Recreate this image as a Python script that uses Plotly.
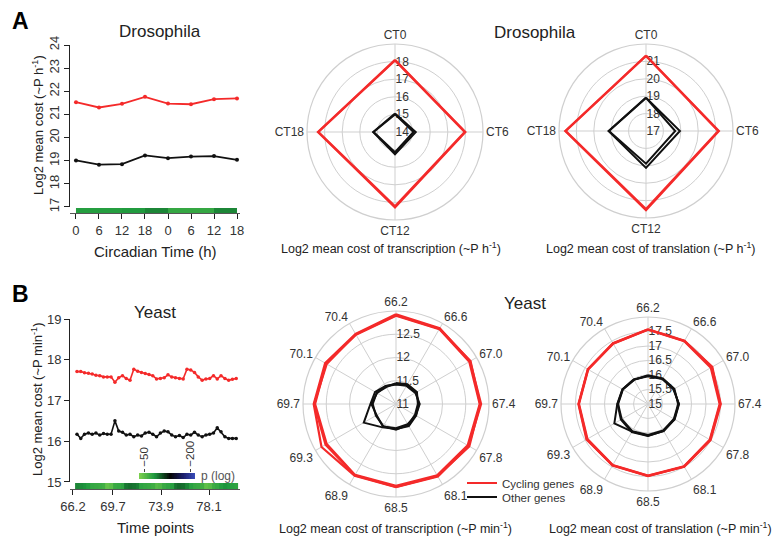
import numpy as np
import plotly.graph_objects as go

W, H = 778, 542
def px(x): return x / W
def py(y): return 1 - y / H

FONT = "Liberation Sans, Arial, sans-serif"
RED = "#f42a2a"
BLACK = "#111111"
GRID = "#cfcfcf"
TXT = "#333333"

# ---------------- Data ----------------
# Panel A: Drosophila, total cost over circadian time (two days)
dro_tick_labels = ["0", "6", "12", "18", "0", "6", "12", "18"]
dro_cycling = [21.53, 21.30, 21.46, 21.76, 21.47, 21.44, 21.66, 21.69]
dro_other = [19.01, 18.83, 18.85, 19.23, 19.11, 19.18, 19.20, 19.04]
dro_strip_p = [-80, -80, -82, -90, -72, -72, -90]  # log p between time points

ct_labels = ["CT0", "CT6", "CT12", "CT18"]
dro_tx_cyc = [[18.10, 18.00, 18.29, 18.38], [18.06, 17.96, 18.22, 18.35]]
dro_tx_oth = [[15.05, 15.18, 15.27, 15.24], [15.00, 15.05, 15.15, 15.22]]
dro_tl_cyc = [[21.34, 21.19, 21.55, 21.64], [21.31, 21.15, 21.48, 21.61]]
dro_tl_oth = [[18.92, 18.95, 19.12, 19.15], [18.90, 18.68, 18.88, 19.13]]

# Panel B: Yeast, total cost over time points
yeast_time = [66.55, 66.88, 67.21, 67.55, 67.88, 68.21, 68.54, 68.87, 69.20, 69.53,
              69.87, 70.20, 70.53, 70.86, 71.19, 71.52, 71.86, 72.19, 72.52, 72.85,
              73.18, 73.51, 73.85, 74.18, 74.51, 74.84, 75.17, 75.51, 75.84, 76.17,
              76.50, 76.83, 77.16, 77.50, 77.83, 78.16, 78.49, 78.82, 79.15, 79.49,
              79.82, 80.15, 80.48]
yeast_cycling = [17.71, 17.71, 17.68, 17.67, 17.65, 17.62, 17.61, 17.58, 17.58, 17.58,
                 17.45, 17.56, 17.61, 17.54, 17.50, 17.77, 17.72, 17.69, 17.66, 17.64,
                 17.61, 17.53, 17.54, 17.56, 17.63, 17.58, 17.56, 17.54, 17.53, 17.77,
                 17.75, 17.69, 17.58, 17.50, 17.53, 17.54, 17.61, 17.53, 17.61, 17.54,
                 17.50, 17.52, 17.54]
yeast_other = [16.17, 16.07, 16.17, 16.20, 16.17, 16.20, 16.15, 16.19, 16.17, 16.17,
               16.50, 16.25, 16.22, 16.15, 16.17, 16.11, 16.15, 16.13, 16.20, 16.22,
               16.17, 16.11, 16.20, 16.25, 16.23, 16.15, 16.11, 16.14, 16.09, 16.17,
               16.15, 16.22, 16.15, 16.11, 16.15, 16.17, 16.20, 16.33, 16.23, 16.11,
               16.07, 16.07, 16.07]
yeast_strip_p = [-90, -88, -85, -80, -72, -70, -68, -65, -48, -52,
                 -70, -72, -75, -95, -98, -96, -92, -75, -72, -70,
                 -66, -55, -58, -70, -74, -78, -96, -100, -98, -90,
                 -78, -72, -70, -66, -50, -55, -68, -72, -80, -85,
                 -82, -78, -75]
yeast_ticks = [66.2, 69.7, 73.9, 78.1]
pscale_ticks = [-50, -200]

yeast_spokes = ["66.2", "66.6", "67.0", "67.4", "67.8", "68.1",
                "68.5", "68.9", "69.3", "69.7", "70.1", "70.4"]
yst_tx_cyc = [
    [12.93, 12.88, 12.84, 12.83, 12.80, 12.80, 12.79, 12.78, 12.85, 12.77, 12.76, 12.74],
    [12.90, 12.86, 12.82, 12.80, 12.78, 12.77, 12.76, 12.76, 12.72, 12.74, 12.74, 12.72],
    [12.91, 12.87, 12.85, 12.81, 12.82, 12.79, 12.78, 12.77, 12.75, 12.76, 12.72, 12.73],
]
yst_tx_oth = [
    [11.43, 11.47, 11.50, 11.49, 11.50, 11.55, 11.54, 11.58, 11.80, 11.55, 11.52, 11.45],
    [11.45, 11.49, 11.52, 11.47, 11.47, 11.52, 11.55, 11.55, 11.50, 11.50, 11.48, 11.42],
    [11.42, 11.45, 11.48, 11.51, 11.49, 11.50, 11.52, 11.56, 11.48, 11.53, 11.47, 11.44],
]
yst_tl_cyc = [
    [17.58, 17.52, 17.54, 17.51, 17.49, 17.50, 17.48, 17.44, 17.45, 17.40, 17.39, 17.42],
    [17.56, 17.50, 17.50, 17.47, 17.46, 17.48, 17.47, 17.43, 17.41, 17.38, 17.38, 17.40],
    [17.57, 17.51, 17.56, 17.49, 17.47, 17.49, 17.49, 17.45, 17.43, 17.39, 17.40, 17.41],
]
yst_tl_oth = [
    [15.97, 16.00, 16.03, 16.06, 16.05, 16.08, 16.09, 16.10, 16.34, 16.06, 16.02, 15.98],
    [15.99, 16.02, 16.05, 16.04, 16.03, 16.05, 16.07, 16.08, 16.05, 16.03, 16.00, 15.96],
    [15.96, 15.99, 16.01, 16.07, 16.06, 16.07, 16.10, 16.12, 16.08, 16.05, 16.01, 15.97],
]

# ---------------- Figure ----------------
PCS = [[0.0, "#3d52c4"], [0.22, "#1c1f6e"], [0.45, "#050505"],
       [0.72, "#1f9a3f"], [1.0, "#86d650"]]
ZMIN, ZMAX = -220, -30

fig = go.Figure()

# A line chart
dro_idx = list(range(len(dro_tick_labels)))
fig.add_trace(go.Scatter(x=dro_idx, y=dro_cycling, mode="lines+markers",
                         line=dict(color=RED, width=1.8), marker=dict(size=4, color=RED),
                         xaxis="x", yaxis="y", showlegend=False, hoverinfo="skip"))
fig.add_trace(go.Scatter(x=dro_idx, y=dro_other, mode="lines+markers",
                         line=dict(color=BLACK, width=1.8), marker=dict(size=4, color=BLACK),
                         xaxis="x", yaxis="y", showlegend=False, hoverinfo="skip"))
fig.add_trace(go.Heatmap(x=dro_idx, y=[0, 1], z=[dro_strip_p], colorscale=PCS,
                         zmin=ZMIN, zmax=ZMAX, showscale=False, hoverinfo="skip",
                         xaxis="x", yaxis="y2"))

# B line chart
fig.add_trace(go.Scatter(x=yeast_time, y=yeast_cycling, mode="lines+markers",
                         line=dict(color=RED, width=1.6), marker=dict(size=3.5, color=RED),
                         xaxis="x2", yaxis="y3", showlegend=False, hoverinfo="skip"))
fig.add_trace(go.Scatter(x=yeast_time, y=yeast_other, mode="lines+markers",
                         line=dict(color=BLACK, width=1.6), marker=dict(size=3.5, color=BLACK),
                         xaxis="x2", yaxis="y3", showlegend=False, hoverinfo="skip"))
fig.add_trace(go.Heatmap(x=yeast_time, y=[0, 1], z=[yeast_strip_p], colorscale=PCS,
                         zmin=ZMIN, zmax=ZMAX, showscale=False, hoverinfo="skip",
                         xaxis="x2", yaxis="y4"))

# p-value colour key
cbar_vals = np.linspace(-34, -216, 80)
fig.add_trace(go.Heatmap(x=cbar_vals, y=[0, 1], z=[cbar_vals], colorscale=PCS,
                         zmin=ZMIN, zmax=ZMAX, showscale=False, hoverinfo="skip",
                         xaxis="x3", yaxis="y5"))

def closed(v):
    return list(v) + [v[0]]

def add_polar(sub, labels, cyc, oth, legend_on=False):
    for i, r in enumerate(cyc):
        fig.add_trace(go.Scatterpolar(r=closed(r), theta=closed(labels), mode="lines",
                                      line=dict(color=RED, width=2.2), subplot=sub,
                                      name="Cycling genes", hoverinfo="skip",
                                      showlegend=legend_on and i == 0, legend="legend"))
    for i, r in enumerate(oth):
        fig.add_trace(go.Scatterpolar(r=closed(r), theta=closed(labels), mode="lines",
                                      line=dict(color=BLACK, width=2), subplot=sub,
                                      name="Other genes", hoverinfo="skip",
                                      showlegend=legend_on and i == 0, legend="legend2"))

add_polar("polar", ct_labels, dro_tx_cyc, dro_tx_oth)
add_polar("polar2", ct_labels, dro_tl_cyc, dro_tl_oth)
add_polar("polar3", yeast_spokes, yst_tx_cyc, yst_tx_oth, legend_on=True)
add_polar("polar4", yeast_spokes, yst_tl_cyc, yst_tl_oth)

def polar_layout(cx, cy, r, labels, rrange, rticks):
    return dict(
        domain=dict(x=[px(cx - r), px(cx + r)], y=[py(cy + r), py(cy - r)]),
        bgcolor="white",
        angularaxis=dict(type="category", categoryarray=labels, direction="clockwise",
                         rotation=90, showline=True, linecolor=GRID, linewidth=1.2,
                         gridcolor=GRID, gridwidth=1, ticks="",
                         tickfont=dict(family=FONT, size=12, color=TXT)),
        radialaxis=dict(range=rrange, tickvals=rticks, angle=90, tickangle=90,
                        showline=False, ticks="", gridcolor=GRID, gridwidth=1.2,
                        layer="below traces",
                        tickfont=dict(family=FONT, size=12, color=TXT)),
    )

axis_common = dict(showgrid=False, zeroline=False, showline=True,
                   linewidth=1, ticks="outside", ticklen=5, tickcolor="#222",
                   tickfont=dict(family=FONT, size=13, color=TXT))

fig.update_layout(
    width=W, height=H, margin=dict(l=0, r=0, t=0, b=0, autoexpand=False),
    paper_bgcolor="white", plot_bgcolor="white",
    font=dict(family=FONT, color=TXT),
    xaxis=dict(domain=[px(70), px(240)], range=[-0.26, 7.13], anchor="y2",
               tickvals=dro_idx, ticktext=dro_tick_labels, linecolor="#555",
               **axis_common),
    yaxis=dict(domain=[py(207), py(45)], range=[16.999, 24.001], anchor="x",
               tickvals=list(range(17, 25)), tickangle=-90, linecolor="#222",
               **axis_common),
    yaxis2=dict(domain=[py(213), py(208)], range=[0, 1], anchor="x", visible=False),
    xaxis2=dict(domain=[px(70), px(240)], range=[65.94, 80.81], anchor="y4",
                tickvals=yeast_ticks, ticktext=[f"{t:.1f}" for t in yeast_ticks],
                linecolor="#555", **axis_common),
    yaxis3=dict(domain=[py(482), py(319)], range=[14.999, 19.001], anchor="x2",
                tickvals=list(range(15, 20)), linecolor="#222", **axis_common),
    yaxis4=dict(domain=[py(489), py(483)], range=[0, 1], anchor="x2", visible=False),
    xaxis3=dict(domain=[px(139), px(195)], range=[-33.7, -216.3], anchor="y5",
                side="top", tickvals=pscale_ticks,
                ticktext=["\u2212" + str(-t) for t in pscale_ticks], tickangle=-90,
                showline=False, showgrid=False, zeroline=False, ticks="outside",
                ticklen=3, tickcolor="#444",
                tickfont=dict(family=FONT, size=11.5, color=TXT)),
    yaxis5=dict(domain=[py(479), py(473)], range=[0, 1], anchor="x3", visible=False),
    polar=polar_layout(395, 132, 88, ct_labels, [14, 19], [14, 15, 16, 17, 18]),
    polar2=polar_layout(646, 131, 87, ct_labels, [17, 22], [17, 18, 19, 20, 21]),
    polar3=polar_layout(396, 404, 93, yeast_spokes, [11, 13], [11, 11.5, 12, 12.5]),
    polar4=polar_layout(648, 404, 87, yeast_spokes, [15, 18],
                        [15, 15.5, 16, 16.5, 17, 17.5]),
    legend=dict(x=px(462), y=py(483), xanchor="left", yanchor="middle",
                bgcolor="rgba(0,0,0,0)", font=dict(family=FONT, size=11.5, color=TXT),
                itemwidth=30),
    legend2=dict(x=px(462), y=py(497), xanchor="left", yanchor="middle",
                 bgcolor="rgba(0,0,0,0)", font=dict(family=FONT, size=11.5, color=TXT),
                 itemwidth=30),
)

def ann(x, y, text, size, angle=0, xanchor="center", color="#222"):
    fig.add_annotation(x=px(x), y=py(y), xref="paper", yref="paper", text=text,
                       showarrow=False, textangle=angle, xanchor=xanchor, yanchor="middle",
                       font=dict(family=FONT, size=size, color=color))

ann(20, 21, "<b>A</b>", 23, color="#000")
ann(20, 294, "<b>B</b>", 23, color="#000")
ann(160, 32, "Drosophila", 17)
ann(535, 33, "Drosophila", 17)
ann(155, 312, "Yeast", 17)
ann(525, 303, "Yeast", 17)
ann(38, 125, "Log2 mean cost (~P h<sup>-1</sup>)", 13, angle=-90)
ann(37, 400, "Log2 mean cost (~P min<sup>-1</sup>)", 13, angle=-90)
ann(155, 251, "Circadian Time (h)", 15)
ann(155, 527, "Time points", 15)
ann(391, 248, "Log2 mean cost of transcription (~P h<sup>-1</sup>)", 12.5)
ann(650, 248, "Log2 mean cost of translation (~P h<sup>-1</sup>)", 12.5)
ann(395, 528, "Log2 mean cost of transcription (~P min<sup>-1</sup>)", 12.5)
ann(660, 528, "Log2 mean cost of translation (~P min<sup>-1</sup>)", 12.5)
ann(199, 476, "p (log)", 12, xanchor="left", color="#555")

fig.write_html("out.html", config={"displayModeBar": False},
               post_script="document.body.style.margin='0';"
                           "document.body.style.overflow='hidden';")
